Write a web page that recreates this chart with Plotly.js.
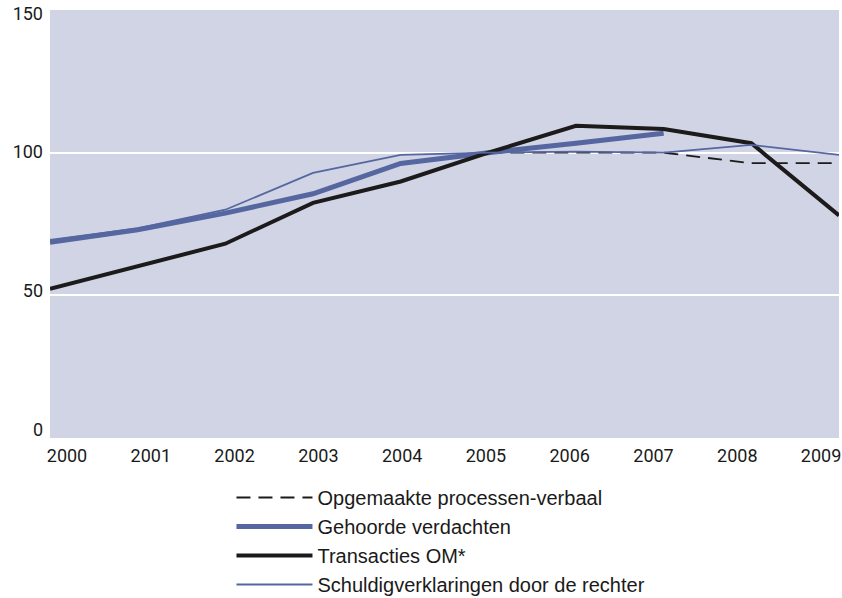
<!DOCTYPE html>
<html>
<head>
<meta charset="utf-8">
<script src="https://cdn.plot.ly/plotly-3.0.1.min.js"></script>
<style>
  html, body { margin: 0; padding: 0; background: #ffffff; }
  #chart { width: 842px; height: 598px; }
</style>
</head>
<body>
<div id="chart"></div>
<script>
// ---- data (index, 2005 = 100) ----
const years = [2000, 2001, 2002, 2003, 2004, 2005, 2006, 2007, 2008, 2009];
const tickLabels = ["2000", "2001", "2002", "2003", "2004", "2005", "2006", "2007", "2008", "2009"];

const pvYears = [2005, 2006, 2007, 2008, 2009];
const processenVerbaal = [100, 100, 100, 96.3, 96.3];

const gvYears = [2000, 2001, 2002, 2003, 2004, 2005, 2006, 2007];
const gehoordeVerdachten = [68.6, 73.0, 78.8, 85.6, 96.2, 100, 103.3, 106.8];

const transactiesOM = [52.3, 60.1, 68.1, 82.4, 89.9, 100, 109.4, 108.3, 103.3, 78.0];

const schuldigverklaringen = [69.4, 73.5, 80.0, 92.9, 99.2, 100, 100.4, 100.0, 102.7, 99.2];

const yTicks = [0, 50, 100, 150];
const yTickLabels = ["0", "50", "100", "150"];

// ---- styling ----
const blue = "#5566a0";
const black = "#1c1a1a";
const tickFont = { family: "Roboto, 'Liberation Sans', sans-serif", size: 18, color: "#1a1a1a" };

const traces = [
  {
    x: pvYears, y: processenVerbaal, name: "Opgemaakte processen-verbaal",
    type: "scatter", mode: "lines",
    line: { color: black, width: 1.8, dash: "14px,8px" }
  },
  {
    x: gvYears, y: gehoordeVerdachten, name: "Gehoorde verdachten",
    type: "scatter", mode: "lines",
    line: { color: blue, width: 5 }
  },
  {
    x: years, y: transactiesOM, name: "Transacties OM*",
    type: "scatter", mode: "lines",
    line: { color: black, width: 4 }
  },
  {
    x: years, y: schuldigverklaringen, name: "Schuldigverklaringen door de rechter",
    type: "scatter", mode: "lines",
    line: { color: blue, width: 1.8 }
  },
  {
    // carrier for the label axes
    x: years, y: years.map(() => null), xaxis: "x2", yaxis: "y2",
    type: "scatter", mode: "lines", showlegend: false, hoverinfo: "skip"
  }
];

const layout = {
  width: 842, height: 598,
  margin: { l: 50, r: 3, t: 10, b: 160, autoexpand: false },
  paper_bgcolor: "#ffffff",
  plot_bgcolor: "#d0d4e4",
  showlegend: true,
  legend: {
    x: 0.23, xanchor: "left", y: -0.0934, yanchor: "top",
    orientation: "v",
    font: { family: "'Liberation Sans', Arial, sans-serif", size: 20, color: "#1a1a1a" },
    itemwidth: 76,
    tracegroupgap: 0,
    bgcolor: "rgba(0,0,0,0)"
  },
  xaxis: {
    range: [2000, 2009],
    showticklabels: false,
    showgrid: false, zeroline: false, showline: false, ticks: ""
  },
  xaxis2: {
    overlaying: "x",
    side: "bottom",
    range: [1999.797, 2009.214],
    tickvals: years, ticktext: tickLabels,
    tickfont: tickFont,
    showgrid: false, zeroline: false, showline: false, ticks: "",
    ticklabelstandoff: 5, automargin: false
  },
  yaxis: {
    range: [0, 150],
    tickvals: yTicks,
    showticklabels: false,
    showgrid: true, gridcolor: "#ffffff", gridwidth: 2,
    zeroline: false, showline: false, ticks: "",
    automargin: false
  },
  yaxis2: {
    overlaying: "y",
    side: "left",
    range: [-3.0, 151.2],
    tickvals: yTicks, ticktext: yTickLabels,
    tickfont: tickFont,
    showgrid: false, zeroline: false, showline: false, ticks: "",
    ticklabelstandoff: 6,
    automargin: false
  },
  hovermode: false
};

Plotly.newPlot("chart", traces, layout, { displayModeBar: false, staticPlot: true });
</script>
</body>
</html>
